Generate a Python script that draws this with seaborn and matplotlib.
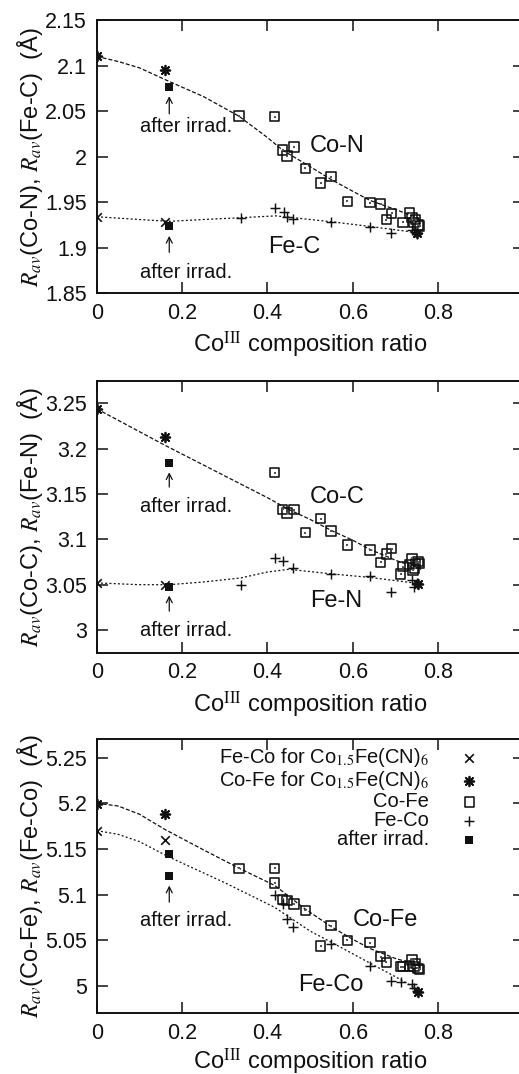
import numpy as np
import pandas as pd
import matplotlib
matplotlib.use("Agg")
import matplotlib.pyplot as plt
import seaborn as sns
from matplotlib.ticker import FuncFormatter

sns.set_theme(style="ticks")
plt.rcParams["font.family"] = ["Liberation Sans", "DejaVu Sans"]
plt.rcParams["mathtext.fontset"] = "stix"

# ---------------- data: panel 1 (Co-N / Fe-C) ----------------
p1_sq_x = [0.333, 0.417, 0.436, 0.446, 0.462, 0.489, 0.525, 0.549, 0.587, 0.640,
           0.665, 0.679, 0.691, 0.718, 0.733, 0.739, 0.743, 0.747, 0.753, 0.757]
p1_sq_y = [2.0445, 2.0438, 2.0073, 2.0007, 2.0106, 1.987, 1.971, 1.978, 1.951, 1.9496,
           1.948, 1.931, 1.9376, 1.928, 1.938, 1.933, 1.928, 1.931, 1.925, 1.924]
p1_pl_x = [0.338, 0.417, 0.438, 0.445, 0.461, 0.548, 0.640, 0.690, 0.739, 0.745, 0.751]
p1_pl_y = [1.933, 1.9434, 1.9387, 1.934, 1.932, 1.928, 1.923, 1.916, 1.920, 1.917, 1.915]
p1_ast_x = [0.0, 0.161, 0.750]
p1_ast_y = [2.110, 2.0956, 1.916]
p1_x_x = [0.0, 0.161]
p1_x_y = [1.934, 1.928]
p1_irr_x = [0.170, 0.170]
p1_irr_y = [2.0763, 1.924]
p1_fitA_x = [0.0, 0.05, 0.1, 0.17, 0.25, 0.333, 0.4, 0.436, 0.5, 0.549, 0.6, 0.64, 0.7, 0.74, 0.76]
p1_fitA_y = [2.110, 2.1045, 2.0975, 2.0825, 2.066, 2.0445, 2.021, 2.007, 1.989, 1.975, 1.962, 1.952, 1.942, 1.935, 1.930]
p1_fitB_x = [0.0, 0.1, 0.17, 0.25, 0.338, 0.42, 0.5, 0.55, 0.64, 0.76]
p1_fitB_y = [1.934, 1.931, 1.929, 1.931, 1.933, 1.935, 1.931, 1.9285, 1.9234, 1.916]

# ---------------- data: panel 2 (Co-C / Fe-N) ----------------
p2_sq_x = [0.417, 0.436, 0.446, 0.462, 0.489, 0.525, 0.549, 0.587, 0.640, 0.665, 0.679,
           0.691, 0.712, 0.718, 0.733, 0.739, 0.741, 0.745, 0.747, 0.753, 0.757]
p2_sq_y = [3.1737, 3.1332, 3.1292, 3.1328, 3.1073, 3.123, 3.109, 3.0938, 3.0883, 3.0745, 3.084,
           3.0898, 3.062, 3.070, 3.072, 3.079, 3.0664, 3.068, 3.0737, 3.0755, 3.0737]
p2_pl_x = [0.338, 0.417, 0.437, 0.461, 0.548, 0.640, 0.690, 0.739, 0.743, 0.751]
p2_pl_y = [3.0493, 3.0792, 3.0759, 3.0682, 3.0617, 3.0591, 3.0416, 3.0555, 3.0474, 3.0518]
p2_ast_x = [0.0, 0.161, 0.752]
p2_ast_y = [3.244, 3.2131, 3.051]
p2_x_x = [0.0, 0.161]
p2_x_y = [3.0518, 3.050]
p2_irr_x = [0.170, 0.170]
p2_irr_y = [3.1843, 3.0474]
p2_fitA_x = [0.0, 0.161, 0.3, 0.4, 0.45, 0.5, 0.549, 0.6, 0.64, 0.7, 0.76]
p2_fitA_y = [3.244, 3.2035, 3.170, 3.146, 3.133, 3.122, 3.110, 3.099, 3.089, 3.077, 3.067]
p2_fitB_x = [0.0, 0.1, 0.17, 0.25, 0.338, 0.4, 0.45, 0.549, 0.64, 0.76]
p2_fitB_y = [3.052, 3.050, 3.050, 3.053, 3.0575, 3.064, 3.067, 3.062, 3.058, 3.051]

# ---------------- data: panel 3 (Co-Fe / Fe-Co) ----------------
p3_sq_x = [0.333, 0.417, 0.417, 0.436, 0.446, 0.462, 0.489, 0.525, 0.549, 0.587, 0.640,
           0.665, 0.679, 0.712, 0.718, 0.733, 0.739, 0.743, 0.747, 0.753, 0.757]
p3_sq_y = [5.1286, 5.1286, 5.1127, 5.0946, 5.0935, 5.0899, 5.0826, 5.0438, 5.0659, 5.050, 5.0475,
           5.0319, 5.0257, 5.021, 5.021, 5.022, 5.0283, 5.021, 5.0246, 5.0192, 5.018]
p3_pl_x = [0.417, 0.437, 0.445, 0.461, 0.548, 0.640, 0.690, 0.712, 0.739, 0.743, 0.751]
p3_pl_y = [5.0996, 5.0899, 5.0736, 5.0645, 5.0464, 5.0217, 5.0054, 5.0047, 5.0022, 4.9975, 4.994]
p3_ast_x = [0.0, 0.161, 0.752]
p3_ast_y = [5.1993, 5.1884, 4.993]
p3_x_x = [0.0, 0.161]
p3_x_y = [5.1696, 5.1594]
p3_irr_x = [0.170, 0.170]
p3_irr_y = [5.1449, 5.1207]
p3_fitA_x = [0.0, 0.05, 0.1, 0.161, 0.25, 0.333, 0.417, 0.489, 0.549, 0.6, 0.64, 0.7, 0.76]
p3_fitA_y = [5.200, 5.197, 5.188, 5.171, 5.149, 5.129, 5.110, 5.084, 5.065, 5.051, 5.041, 5.030, 5.022]
p3_fitB_x = [0.0, 0.05, 0.1, 0.17, 0.3, 0.417, 0.5, 0.549, 0.64, 0.7, 0.76]
p3_fitB_y = [5.170, 5.166, 5.158, 5.141, 5.113, 5.086, 5.060, 5.048, 5.025, 5.010, 4.994]

# axis ranges / labels
ylims = [(1.85, 2.15), (2.975, 3.275), (4.97, 5.27)]
yticks = [[1.85, 1.9, 1.95, 2.0, 2.05, 2.1, 2.15],
          [3.0, 3.05, 3.1, 3.15, 3.2, 3.25],
          [5.0, 5.05, 5.1, 5.15, 5.2, 5.25]]
xticks = [0, 0.2, 0.4, 0.6, 0.8, 1.0]
ylabels = [r"$R_{av}$(Co-N), $R_{av}$(Fe-C)  (Å)",
           r"$R_{av}$(Co-C), $R_{av}$(Fe-N)  (Å)",
           r"$R_{av}$(Co-Fe), $R_{av}$(Fe-Co)  (Å)"]
xlabel = r"Co$^{\rm III}$ composition ratio"
series_labels = [("Co-N", "Fe-C"), ("Co-C", "Fe-N"), ("Co-Fe", "Fe-Co")]
series_label_pos = [((0.564, 2.0117), (0.463, 1.9004)),
                    ((0.564, 3.1467), (0.560, 3.0318)),
                    ((0.677, 5.0717), (0.549, 5.001))]
legend_labels = [r"Fe-Co for Co$_{1.5}$Fe(CN)$_6$", r"Co-Fe for Co$_{1.5}$Fe(CN)$_6$",
                 "Co-Fe", "Fe-Co", "after irrad."]
# irradiation annotations: (arrow tail y, arrow head y, text y)
irr_notes = [[(2.047, 2.0664, 2.0336), (1.895, 1.913, 1.873)],
             [(3.1577, 3.174, 3.1358), (3.0208, 3.038, 2.999)],
             [(5.0917, 5.1098, 5.0717)]]

panels = [
    (p1_sq_x, p1_sq_y, p1_pl_x, p1_pl_y, p1_ast_x, p1_ast_y, p1_x_x, p1_x_y, p1_irr_x, p1_irr_y,
     p1_fitA_x, p1_fitA_y, p1_fitB_x, p1_fitB_y),
    (p2_sq_x, p2_sq_y, p2_pl_x, p2_pl_y, p2_ast_x, p2_ast_y, p2_x_x, p2_x_y, p2_irr_x, p2_irr_y,
     p2_fitA_x, p2_fitA_y, p2_fitB_x, p2_fitB_y),
    (p3_sq_x, p3_sq_y, p3_pl_x, p3_pl_y, p3_ast_x, p3_ast_y, p3_x_x, p3_x_y, p3_irr_x, p3_irr_y,
     p3_fitA_x, p3_fitA_y, p3_fitB_x, p3_fitB_y),
]

W, H = 519, 1074
fig = plt.figure(figsize=(W / 100, H / 100), dpi=100)
left_px, right_px = 96.7, 523.5
axes_px = [(20.0, 293.3), (380.7, 652.7), (739.3, 1013.3)]

INK = "#111111"
fmt = FuncFormatter(lambda v, p: f"{v:g}")

for i, (pan, (top, bot)) in enumerate(zip(panels, axes_px)):
    (sq_x, sq_y, pl_x, pl_y, ast_x, ast_y, x_x, x_y, irr_x, irr_y,
     fa_x, fa_y, fb_x, fb_y) = pan
    ax = fig.add_axes([left_px / W, 1 - bot / H, (right_px - left_px) / W, (bot - top) / H])

    sns.lineplot(x=fa_x, y=fa_y, ax=ax, sort=False, estimator=None, color=INK,
                 lw=0.9, dashes=False, linestyle=(0, (3.2, 1.6)))
    sns.lineplot(x=fb_x, y=fb_y, ax=ax, sort=False, estimator=None, color=INK,
                 lw=0.9, dashes=False, linestyle=(0, (1.6, 1.8)))

    sns.scatterplot(x=x_x, y=x_y, ax=ax, marker="x", s=38, color=INK, linewidth=1.2,
                    label=legend_labels[0], zorder=4)
    sns.scatterplot(x=ast_x, y=ast_y, ax=ax, marker=(8, 2, 0), s=48, color=INK, linewidth=1.3,
                    label=legend_labels[1], zorder=4)
    sns.scatterplot(x=sq_x, y=sq_y, ax=ax, marker="s", s=46, facecolor="none", edgecolor=INK,
                    linewidth=1.15, label=legend_labels[2], zorder=3)
    sns.scatterplot(x=sq_x, y=sq_y, ax=ax, marker="s", s=1.0, color="#555555", linewidth=0,
                    zorder=3, legend=False)
    sns.scatterplot(x=pl_x, y=pl_y, ax=ax, marker="+", s=55, color=INK, linewidth=1.05,
                    label=legend_labels[3], zorder=4)
    sns.scatterplot(x=irr_x, y=irr_y, ax=ax, marker="s", s=40, color=INK, linewidth=0,
                    label=legend_labels[4], zorder=5)

    for (ty, hy, txt_y) in irr_notes[i]:
        ax.annotate("", xy=(0.170, hy), xytext=(0.170, ty),
                    arrowprops=dict(arrowstyle="->,head_length=0.35,head_width=0.18",
                                    lw=0.9, color=INK, shrinkA=0, shrinkB=0))
        ax.text(0.101, txt_y, "after irrad.", fontsize=14.5, color=INK, ha="left", va="center")

    (la, lb) = series_labels[i]
    (pa, pb) = series_label_pos[i]
    ax.text(pa[0], pa[1], la, fontsize=17, color=INK, ha="center", va="center")
    ax.text(pb[0], pb[1], lb, fontsize=17, color=INK, ha="center", va="center")

    ax.set_xlim(0, 1.0)
    ax.set_ylim(*ylims[i])
    ax.set_xticks(xticks)
    ax.set_yticks(yticks[i])
    ax.xaxis.set_major_formatter(fmt)
    ax.yaxis.set_major_formatter(fmt)
    ax.tick_params(direction="in", top=True, right=True, length=8, width=1.1,
                   labelsize=15.5, colors=INK, pad=7)
    for sp in ax.spines.values():
        sp.set_linewidth(1.4)
        sp.set_color(INK)
    ax.set_xlabel(xlabel, fontsize=17, color=INK, labelpad=4 if i < 2 else 2)
    ax.set_ylabel(ylabels[i], fontsize=17, color=INK)
    ax.yaxis.set_label_coords(-0.12, 0.5)

    if i == 2:
        fs = 14.5
        hx = (479.4 - left_px) / (right_px - left_px)
        leg = ax.legend(loc="upper right", bbox_to_anchor=(hx, 0.975), frameon=False,
                        markerfirst=False, fontsize=fs, handlelength=1.0,
                        handletextpad=1.5, labelspacing=0.0, borderpad=0,
                        borderaxespad=0)
        for t in leg.get_texts():
            t.set_color(INK)
    else:
        ax.get_legend().remove()

fig.savefig("out.png", dpi=100)
